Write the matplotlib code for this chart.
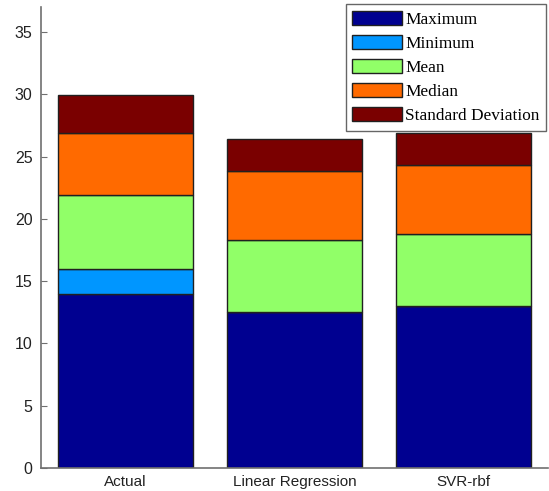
import matplotlib
matplotlib.use("Agg")
import matplotlib.pyplot as plt
import numpy as np

categories = ["Actual", "Linear Regression", "SVR-rbf"]
series_names = ["Maximum", "Minimum", "Mean", "Median", "Standard Deviation"]
maximum = [14.0, 12.5, 13.0]
minimum = [2.0, 0.0, 0.0]
mean = [5.9, 5.8, 5.8]
median = [5.0, 5.5, 5.5]
std_dev = [3.0, 2.6, 2.6]
colors = ["#000090", "#0096FF", "#91FF68", "#FF6A00", "#7A0000"]
yticks = [0, 5, 10, 15, 20, 25, 30, 35]

series = [maximum, minimum, mean, median, std_dev]

fig = plt.figure(figsize=(5.49, 4.91), dpi=100)
ax = fig.add_axes([41/549, 23/491, 507/549, 461/491])

x = np.arange(1, len(categories) + 1)
bottom = np.zeros(len(categories))
for name, vals, c in zip(series_names, series, colors):
    v = np.array(vals, dtype=float)
    ax.bar(x, v, width=0.8, bottom=bottom, color=c, edgecolor="#202020",
           linewidth=1.0, label=name)
    bottom += v

ax.set_xlim(0.5, 3.5)
ax.set_ylim(0, 37)
ax.set_xticks(x)
ax.set_xticklabels(categories)
ax.set_yticks(yticks)
for s in ["top", "right"]:
    ax.spines[s].set_visible(False)
for s in ["left", "bottom"]:
    ax.spines[s].set_color("#707070")
    ax.spines[s].set_linewidth(1.2)
ax.tick_params(axis="y", direction="in", length=4, color="#707070",
               labelsize=11.5, labelcolor="#222222", pad=6)
ax.tick_params(axis="x", length=0, labelsize=11, labelcolor="#222222", pad=5)
for lbl in ax.get_xticklabels() + ax.get_yticklabels():
    lbl.set_family("Liberation Sans")

leg = ax.legend(loc="upper right", bbox_to_anchor=(1.0, 1.01),
                prop={"family": "Liberation Serif", "size": 12.4},
                frameon=True, fancybox=False, edgecolor="#404040",
                handlelength=2.9, handleheight=0.85, handletextpad=0.15,
                labelspacing=0.42, borderpad=0.4, borderaxespad=0.1)
leg.get_frame().set_linewidth(1.0)
for h in leg.legend_handles:
    h.set_edgecolor("#202020")

fig.savefig("out.png", dpi=100)
